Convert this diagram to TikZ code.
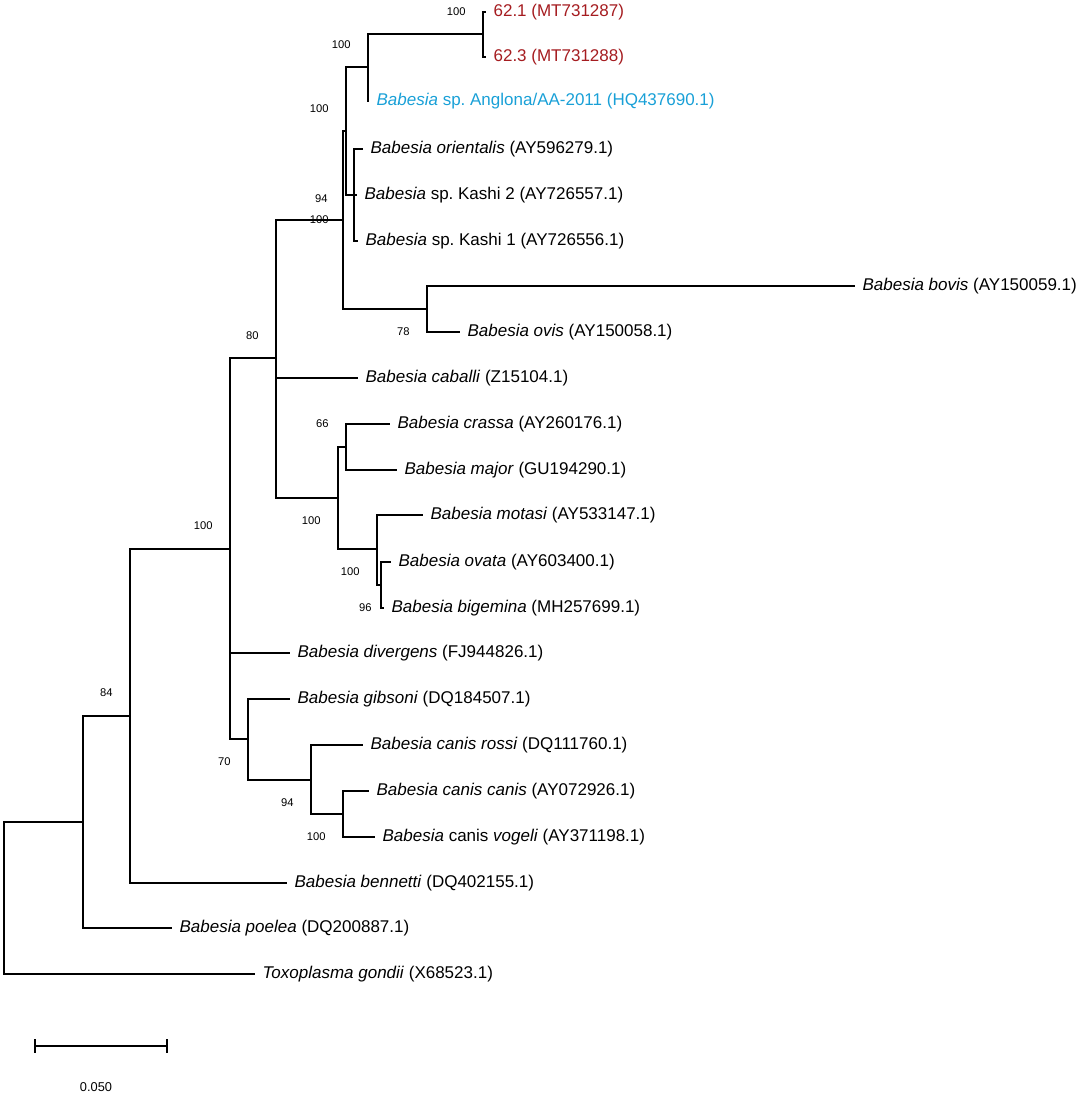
\documentclass[tikz,border=0pt]{standalone}
\usepackage{fontspec}
\setmainfont{Liberation Sans}
\usetikzlibrary{positioning}
\definecolor{isored}{RGB}{165,28,32}
\definecolor{refblue}{RGB}{25,160,215}
\tikzset{
  branch/.style={line width=1pt},
  taxon/.style={anchor=west, inner xsep=3.6pt, inner ysep=0pt, font=\fontsize{8.5}{10}\selectfont},
  boot/.style={anchor=east, inner sep=0pt, font=\fontsize{5.6}{6.5}\selectfont},
  bootup/.style={boot, xshift=-8.5pt, yshift=11.5pt},
  bootdown/.style={boot, xshift=-8.5pt, yshift=-11.5pt},
}
\frenchspacing

\begin{document}
\begin{tikzpicture}[x=0.5pt, y=-0.5pt]
    \useasboundingbox (0,0) rectangle (1084,1095);

    % internal nodes
    \coordinate (root) at (4,898);
    \coordinate (nN) at (83,822);
    \coordinate (nM) at (130,716);
    \coordinate (nI) at (230,548.5);
    \coordinate (nD) at (276,358.5);
    \coordinate (nC) at (343,220);
    \coordinate (nB) at (346,131.5);
    \coordinate (nA) at (368,67.5);
    \coordinate (n62) at (483,34.5);
    \coordinate (nO) at (354,195);
    \coordinate (nBO) at (427,309);
    \coordinate (nE) at (338,498);
    \coordinate (nF) at (346,447);
    \coordinate (nG) at (377,549);
    \coordinate (nH) at (381,585);
    \coordinate (nJ) at (248,739);
    \coordinate (nK) at (311,779.5);
    \coordinate (nL) at (343,814);

    % tips
    \coordinate (t621) at (486,12);
    \coordinate (t623) at (486,57);
    \coordinate (tAng) at (369,101);
    \coordinate (tOri) at (363,149);
    \coordinate (tKa2) at (357,195);
    \coordinate (tKa1) at (358,241);
    \coordinate (tBov) at (855,286);
    \coordinate (tOvi) at (460,332);
    \coordinate (tCab) at (358,378);
    \coordinate (tCra) at (390,424);
    \coordinate (tMaj) at (397,470);
    \coordinate (tMot) at (423,515);
    \coordinate (tOva) at (391,562);
    \coordinate (tBig) at (384,608);
    \coordinate (tDiv) at (290,653);
    \coordinate (tGib) at (290,699);
    \coordinate (tRos) at (363,745);
    \coordinate (tCca) at (369,791);
    \coordinate (tCvo) at (375,837);
    \coordinate (tBen) at (287,883);
    \coordinate (tPoe) at (172,928);
    \coordinate (tTox) at (255,974);

    \foreach \p/\c in {root/nN, root/tTox, nN/nM, nN/tPoe, nM/nI, nM/tBen,
        nI/nD, nI/tDiv, nI/nJ, nJ/tGib, nJ/nK, nK/tRos, nK/nL, nL/tCca, nL/tCvo,
        nD/nC, nD/tCab, nD/nE, nE/nF, nE/nG, nF/tCra, nF/tMaj, nG/tMot, nG/nH,
        nH/tOva, nH/tBig, nC/nB, nC/nBO, nBO/tBov, nBO/tOvi, nB/nA, nB/nO,
        nA/n62, nA/tAng, n62/t621, n62/t623, nO/tOri, nO/tKa2, nO/tKa1}
        \draw[branch] (\p) |- (\c);

    % taxa
    \node[taxon, text=isored] (l621) at (t621) {62.1 (MT731287)};
    \node[taxon, text=isored] (l623) at (t623) {62.3 (MT731288)};
    \node[taxon, text=refblue] (lAng) at (tAng) {\textit{Babesia} sp. Anglona/AA-2011 (HQ437690.1)};
    \node[taxon] (lOri) at (tOri) {\textit{Babesia orientalis} (AY596279.1)};
    \node[taxon] (lKa2) at (tKa2) {\textit{Babesia} sp. Kashi 2 (AY726557.1)};
    \node[taxon] (lKa1) at (tKa1) {\textit{Babesia} sp. Kashi 1 (AY726556.1)};
    \node[taxon] (lBov) at (tBov) {\textit{Babesia bovis} (AY150059.1)};
    \node[taxon] (lOvi) at (tOvi) {\textit{Babesia ovis} (AY150058.1)};
    \node[taxon] (lCab) at (tCab) {\textit{Babesia caballi} (Z15104.1)};
    \node[taxon] (lCra) at (tCra) {\textit{Babesia crassa} (AY260176.1)};
    \node[taxon] (lMaj) at (tMaj) {\textit{Babesia major} (GU194290.1)};
    \node[taxon] (lMot) at (tMot) {\textit{Babesia motasi} (AY533147.1)};
    \node[taxon] (lOva) at (tOva) {\textit{Babesia ovata} (AY603400.1)};
    \node[taxon] (lBig) at (tBig) {\textit{Babesia bigemina} (MH257699.1)};
    \node[taxon] (lDiv) at (tDiv) {\textit{Babesia divergens} (FJ944826.1)};
    \node[taxon] (lGib) at (tGib) {\textit{Babesia gibsoni} (DQ184507.1)};
    \node[taxon] (lRos) at (tRos) {\textit{Babesia canis rossi} (DQ111760.1)};
    \node[taxon] (lCca) at (tCca) {\textit{Babesia canis canis} (AY072926.1)};
    \node[taxon] (lCvo) at (tCvo) {\textit{Babesia} canis \textit{vogeli} (AY371198.1)};
    \node[taxon] (lBen) at (tBen) {\textit{Babesia bennetti} (DQ402155.1)};
    \node[taxon] (lPoe) at (tPoe) {\textit{Babesia poelea} (DQ200887.1)};
    \node[taxon] (lTox) at (tTox) {\textit{Toxoplasma gondii} (X68523.1)};

    % bootstrap values
    \node[bootup] (b62) at (n62) {100};
    \node[bootup] (bA) at (nA) {100};
    \node[bootup] (bB) at (nB) {100};
    \node[boot, xshift=-13pt, yshift=-2pt] (bO) at (nO) {94};
    \node[boot, xshift=-7pt] (bC) at (nC) {100};
    \node[bootdown] (bBO) at (nBO) {78};
    \node[bootup] (bD) at (nD) {80};
    \node[bootup] (bF) at (nF) {66};
    \node[bootdown] (bE) at (nE) {100};
    \node[bootdown] (bG) at (nG) {100};
    \node[bootdown, xshift=4pt] (bH) at (nH) {96};
    \node[bootup] (bI) at (nI) {100};
    \node[bootup] (bM) at (nM) {84};
    \node[bootdown] (bJ) at (nJ) {70};
    \node[bootdown] (bK) at (nK) {94};
    \node[bootdown] (bL) at (nL) {100};

    % scale bar
    \coordinate (sbL) at (35,1046);
    \coordinate (sbR) at (167,1046);
    \draw[branch] (sbL) -- (sbR);
    \draw[branch] ([yshift=3.5pt]sbL) -- ([yshift=-3.5pt]sbL);
    \draw[branch] ([yshift=3.5pt]sbR) -- ([yshift=-3.5pt]sbR);
    \node[font=\fontsize{6.4}{7.5}\selectfont] (sbText) at (96,1087) {0.050};
\end{tikzpicture}
\end{document}
